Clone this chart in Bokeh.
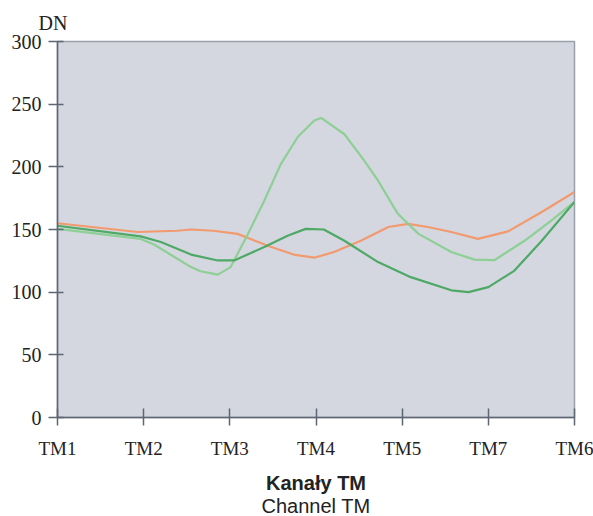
from bokeh.plotting import figure
from bokeh.models import Range1d, FixedTicker, Title
from bokeh.embed import file_html
from bokeh.resources import INLINE

channels = ["TM1", "TM2", "TM3", "TM4", "TM5", "TM7", "TM6"]
y_ticks = [0, 50, 100, 150, 200, 250, 300]

orange_x = [0, 0.93, 1.39, 1.55, 1.81, 2.09, 2.44, 2.74, 2.98, 3.21, 3.52, 3.84, 4.07, 4.30, 4.57, 4.88, 5.23, 5.62, 6.0]
orange_y = [155, 148, 149, 150, 149, 146.5, 137, 130, 127.5, 132, 141, 152, 154.5, 152, 148, 142.5, 148.5, 164, 180]

light_x = [0, 0.965, 1.12, 1.55, 1.66, 1.86, 2.01, 2.21, 2.40, 2.59, 2.79, 2.98, 3.06, 3.33, 3.56, 3.72, 3.95, 4.19, 4.57, 4.84, 5.07, 5.42, 5.73, 6.0]
light_y = [150.5, 142.5, 138, 120, 116.7, 114, 120, 146.5, 173, 202, 224, 237, 239, 226, 205, 189, 162.5, 146.5, 132, 126, 125.5, 141, 157, 172]

dark_x = [0, 0.965, 1.2, 1.55, 1.86, 2.05, 2.40, 2.67, 2.88, 3.09, 3.33, 3.72, 4.10, 4.57, 4.77, 5.0, 5.30, 5.62, 6.0]
dark_y = [153, 144.5, 140, 130, 125.3, 125.3, 136, 145, 150.5, 150, 141, 124, 112, 101.5, 100, 104, 117, 141, 172]

p = figure(width=593, height=516, output_backend="svg", toolbar_location=None,
           x_range=Range1d(0, 6), y_range=Range1d(0, 300),
           min_border_left=57, min_border_right=19, min_border_top=41, min_border_bottom=99)
p.background_fill_color = "#d4d7df"
p.border_fill_color = "white"
p.outline_line_color = "#9aa0aa"
p.outline_line_width = 1.5
p.grid.visible = False

axis_color = "#5e6673"
serif = "Liberation Serif"

p.xaxis.ticker = FixedTicker(ticks=list(range(len(channels))))
p.xaxis.major_label_overrides = {i: c for i, c in enumerate(channels)}
p.xaxis.major_label_text_font = serif
p.xaxis.major_label_text_font_size = "19px"
p.xaxis.major_label_text_color = "#222222"
p.xaxis.major_label_standoff = 12
p.xaxis.major_tick_in = 9
p.xaxis.major_tick_out = 8
p.xaxis.minor_tick_line_color = None
p.xaxis.axis_line_color = axis_color
p.xaxis.axis_line_width = 1.5
p.xaxis.major_tick_line_color = axis_color
p.xaxis.major_tick_line_width = 1.5
p.xaxis.axis_label = "Kanały TM"
p.xaxis.axis_label_text_font = "Liberation Sans"
p.xaxis.axis_label_text_font_size = "20px"
p.xaxis.axis_label_text_font_style = "bold"
p.xaxis.axis_label_text_color = "#222222"
p.xaxis.axis_label_standoff = 10

p.yaxis.ticker = FixedTicker(ticks=y_ticks)
p.yaxis.major_label_text_font = serif
p.yaxis.major_label_text_font_size = "20px"
p.yaxis.major_label_text_color = "#222222"
p.yaxis.major_label_standoff = 7
p.yaxis.major_tick_in = 6
p.yaxis.major_tick_out = 9
p.yaxis.minor_tick_line_color = None
p.yaxis.axis_line_color = axis_color
p.yaxis.axis_line_width = 1.5
p.yaxis.major_tick_line_color = axis_color
p.yaxis.major_tick_line_width = 1.5

p.line(orange_x, orange_y, line_color="#f29a6e", line_width=2.2, line_join="round")
p.line(light_x, light_y, line_color="#8dcf95", line_width=2.2, line_join="round")
p.line(dark_x, dark_y, line_color="#4ea866", line_width=2.2, line_join="round")

p.add_layout(Title(text="DN", align="left", offset=-19, standoff=16,
                   text_font=serif, text_font_size="20px", text_font_style="normal",
                   text_color="#222222"), "above")
p.add_layout(Title(text="Channel TM", align="center", offset=4, standoff=-8,
                   text_font="Liberation Sans", text_font_size="20px", text_font_style="normal",
                   text_color="#222222"), "below")

open("out.html", "w").write(file_html(p, INLINE))
